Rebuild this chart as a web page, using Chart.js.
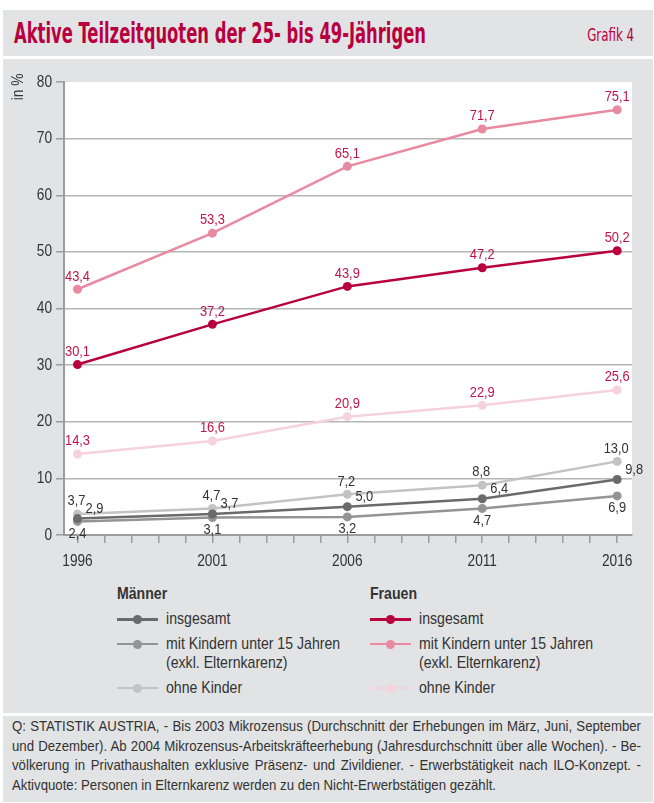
<!DOCTYPE html>
<html>
<head>
<meta charset="utf-8">
<script src="https://cdn.jsdelivr.net/npm/chart.js@4.4.1/dist/chart.umd.min.js"></script>
<style>
  body { margin: 0; background: #fff; font-family: "Liberation Sans", Arial, sans-serif; }
  .box { position: absolute; left: 3px; width: 650px; background: #e2e3e4; overflow: hidden; }
  #kopf { top: 10px; height: 46px; }
  #titel { position: absolute; left: 11px; top: 7px; font-family: "DejaVu Sans Condensed", sans-serif; font-size: 28px; font-weight: bold; color: #b8003f; white-space: nowrap; transform-origin: 0 0; }
  #grafik { position: absolute; right: 19px; top: 14px; font-family: "DejaVu Sans Condensed", sans-serif; font-size: 18px; color: #b8003f; white-space: nowrap; transform-origin: 100% 0; }
  #panel { top: 59px; height: 654px; }
  #panel canvas { position: absolute; left: 0; top: 0; }
  .leg { position: absolute; top: 525px; font-size: 17px; color: #333; }
  .leg h4 { margin: 0 0 5px 0; font-size: 17px; font-weight: bold; line-height: 20px; }
  .row { position: relative; padding-left: 49px; line-height: 19.5px; margin-bottom: 5px; }
  .row .ln { position: absolute; left: 0; top: 9px; width: 41px; height: 2.5px; }
  .row .pt { position: absolute; left: 16px; top: 6px; width: 9px; height: 9px; border-radius: 50%; }
  .txtscale { display: inline-block; white-space: nowrap; transform-origin: 0 0; }
  #quelle { top: 716px; height: 86px; }
  #quelle .txt { position: absolute; left: 9px; top: 1px; font-size: 14.5px; line-height: 19.7px; color: #333; transform-origin: 0 0; }
  #quelle .txt div { text-align: justify; text-align-last: justify; white-space: nowrap; }
  #quelle .txt div:last-child { text-align-last: left; }
  #mess { position: absolute; visibility: hidden; white-space: nowrap; font-size: 14.5px; }
</style>
</head>
<body>
<div id="kopf" class="box">
  <div id="titel">Aktive Teilzeitquoten der 25- bis 49-Jährigen</div>
  <div id="grafik">Grafik 4</div>
</div>
<div id="panel" class="box">
  <canvas id="chart" width="650" height="520"></canvas>
  <div id="legM" class="leg" style="left:114px"><h4>Männer</h4></div>
  <div id="legF" class="leg" style="left:367px"><h4>Frauen</h4></div>
</div>
<div id="quelle" class="box">
  <div class="txt" id="fuss">
    <div>Q: STATISTIK AUSTRIA, - Bis 2003 Mikrozensus (Durchschnitt der Erhebungen im März, Juni, September</div>
    <div>und Dezember). Ab 2004 Mikrozensus-Arbeitskräfteerhebung (Jahresdurchschnitt über alle Wochen). - Be-</div>
    <div>völkerung in Privathaushalten exklusive Präsenz- und Zivildiener. - Erwerbstätigkeit nach ILO-Konzept. -</div>
    <div id="letzte">Aktivquote: Personen in Elternkarenz werden zu den Nicht-Erwerbstätigen gezählt.</div>
  </div>
</div>
<span id="mess"></span>
<script>
const jahre = [1996, 2001, 2006, 2011, 2016];
const yTicks = [0, 10, 20, 30, 40, 50, 60, 70, 80];

const serienNamen = ['insgesamt', 'mit Kindern unter 15 Jahren\n(exkl. Elternkarenz)', 'ohne Kinder'];

const maennerInsgesamt = [2.9, 3.7, 5.0, 6.4, 9.8];
const maennerMitKindern = [2.4, 3.1, 3.2, 4.7, 6.9];
const maennerOhneKinder = [3.7, 4.7, 7.2, 8.8, 13.0];
const frauenInsgesamt = [30.1, 37.2, 43.9, 47.2, 50.2];
const frauenMitKindern = [43.4, 53.3, 65.1, 71.7, 75.1];
const frauenOhneKinder = [14.3, 16.6, 20.9, 22.9, 25.6];

const schrift = '"Liberation Sans", Arial, sans-serif';
const schmal = 0.83; // Arial Narrow nachbilden

function punkte(werte) {
  return werte.map((v, i) => ({ x: jahre[i], y: v }));
}

function serie(gruppe, idx, werte, farbe, textFarbe, dx, dy) {
  return {
    gruppe: gruppe,
    label: serienNamen[idx],
    data: punkte(werte),
    borderColor: farbe,
    backgroundColor: farbe,
    borderWidth: 2.5,
    pointRadius: 4.5,
    pointHoverRadius: 4.5,
    pointBorderWidth: 0,
    tension: 0,
    textFarbe: textFarbe,
    dx: dx,
    dy: dy
  };
}

const datasets = [
  serie('F', 0, frauenInsgesamt, '#b8003f', '#c0134a', 0, -13),
  serie('F', 1, frauenMitKindern, '#e88aa1', '#c0134a', 0, -13),
  serie('F', 2, frauenOhneKinder, '#f6d2dd', '#c0134a', 0, -13),
  serie('M', 0, maennerInsgesamt, '#6a6a6b', '#333', 17, -10),
  serie('M', 1, maennerMitKindern, '#949495', '#333', 0, 12),
  serie('M', 2, maennerOhneKinder, '#c3c3c4', '#333', -1, -13)
];

function schmalText(c, text, x, y) {
  c.save();
  c.translate(x, y);
  c.scale(schmal, 1);
  c.fillText(text, 0, 0);
  c.restore();
}

// Datenbeschriftungen
const werteText = {
  id: 'werteText',
  afterDatasetsDraw(chart) {
    const c = chart.ctx;
    c.save();
    c.font = '15.5px ' + schrift;
    c.textAlign = 'center';
    c.textBaseline = 'middle';
    chart.data.datasets.forEach((ds, i) => {
      const meta = chart.getDatasetMeta(i);
      meta.data.forEach((p, j) => {
        c.fillStyle = ds.textFarbe;
        schmalText(c, ds.data[j].y.toFixed(1).replace('.', ','), p.x + ds.dx, p.y + ds.dy);
      });
    });
    c.restore();
  }
};

// weisse Zeichenflaeche, "in %" und schmale Achsenbeschriftung
const flaeche = {
  id: 'flaeche',
  beforeDraw(chart) {
    const a = chart.chartArea;
    const c = chart.ctx;
    c.save();
    c.fillStyle = '#fff';
    c.fillRect(a.left, a.top, a.right - a.left, a.bottom - a.top);
    c.font = '16.5px ' + schrift;
    c.fillStyle = '#333';
    c.textBaseline = 'middle';
    c.save();
    c.translate(15, 28);
    c.rotate(-Math.PI / 2);
    c.textAlign = 'center';
    schmalText(c, 'in %', 0, 0);
    c.restore();
    const sx = chart.scales.x, sy = chart.scales.y;
    c.textAlign = 'center';
    sx.ticks.forEach(t => {
      if (jahre.includes(t.value)) schmalText(c, String(t.value), sx.getPixelForValue(t.value), a.bottom + 26);
    });
    c.textAlign = 'right';
    sy.ticks.forEach(t => {
      schmalText(c, String(t.value), a.left - 12, sy.getPixelForValue(t.value));
    });
    c.restore();
  }
};

const chart = new Chart(document.getElementById('chart'), {
  type: 'line',
  data: { datasets: datasets },
  options: {
    responsive: false,
    animation: false,
    layout: { padding: { top: 23, right: 21, left: 0, bottom: 0 } },
    plugins: { legend: { display: false }, tooltip: { enabled: false } },
    scales: {
      x: {
        type: 'linear',
        min: 1995.5,
        max: 2016.55,
        afterFit(s) { s.height = 44; },
        afterBuildTicks(s) {
          const t = [];
          for (let j = jahre[0]; j <= jahre[jahre.length - 1]; j++) t.push({ value: j });
          s.ticks = t;
        },
        ticks: { display: false },
        grid: { drawOnChartArea: false, tickLength: 8, tickColor: '#9c9c9d', lineWidth: 1.5 },
        border: { color: '#9c9c9d', width: 2 }
      },
      y: {
        min: yTicks[0],
        max: yTicks[yTicks.length - 1],
        afterFit(s) { s.width = 61; },
        afterBuildTicks(s) { s.ticks = yTicks.map(v => ({ value: v })); },
        ticks: { display: false },
        grid: {
          tickLength: 8,
          lineWidth: 1.5,
          tickColor: '#9c9c9d',
          color: ctx => (ctx.tick && (ctx.tick.value === yTicks[0] || ctx.tick.value === yTicks[yTicks.length - 1])) ? 'rgba(0,0,0,0)' : '#b5b5b6'
        },
        border: { color: '#9c9c9d', width: 2 }
      }
    }
  },
  plugins: [flaeche, werteText]
});

// Legende aus den Datensaetzen
chart.data.datasets.forEach(ds => {
  const ziel = document.getElementById(ds.gruppe === 'M' ? 'legM' : 'legF');
  const row = document.createElement('div');
  row.className = 'row';
  row.innerHTML = '<span class="ln" style="background:' + ds.borderColor + '"></span>' +
    '<span class="pt" style="background:' + ds.borderColor + '"></span>' +
    '<span class="txtscale" style="transform:scaleX(' + schmal + ')">' + ds.label.replace('\n', '<br>') + '</span>';
  ziel.appendChild(row);
});
document.querySelectorAll('.leg h4').forEach(h => {
  h.innerHTML = '<span class="txtscale" style="transform:scaleX(' + schmal + ')">' + h.textContent + '</span>';
});

// Titel auf Zielbreite stauchen
function stauchen(el, breite) {
  const w = el.getBoundingClientRect().width;
  el.style.transform = 'scaleX(' + (breite / w) + ')';
}
stauchen(document.getElementById('titel'), 412);
stauchen(document.getElementById('grafik'), 47);

// Fussnote: letzte Zeile bestimmt die Stauchung, Zeilen 1-3 im Blocksatz
const mess = document.getElementById('mess');
mess.textContent = document.getElementById('letzte').textContent;
const s = 484 / mess.getBoundingClientRect().width;
const fuss = document.getElementById('fuss');
fuss.style.width = (629 / s) + 'px';
fuss.style.transform = 'scaleX(' + s + ')';
</script>
</body>
</html>
